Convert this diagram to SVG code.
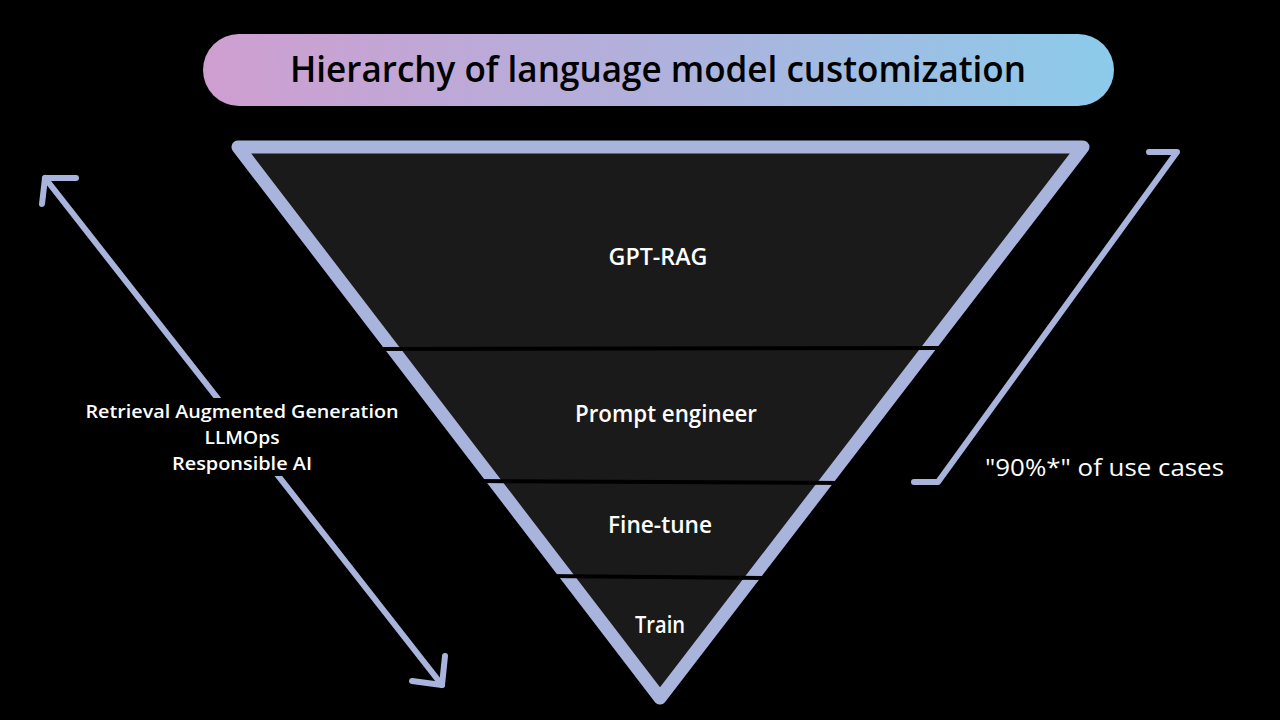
<svg xmlns="http://www.w3.org/2000/svg" width="1280" height="720" viewBox="0 0 1280 720">
  <defs>
    <linearGradient id="titleGrad" x1="0" y1="0" x2="1" y2="0">
      <stop offset="0" stop-color="#cf9ed0"/>
      <stop offset="0.5" stop-color="#b0b1dc"/>
      <stop offset="1" stop-color="#8ccbea"/>
    </linearGradient>
    <style>
      .lbl { font-family: "Open Sans", "Noto Sans", "Liberation Sans", sans-serif; font-weight: 600; fill: #ffffff; text-anchor: middle; }
      .side { font-family: "Open Sans", "Noto Sans", "Liberation Sans", sans-serif; font-weight: 600; fill: #ffffff; text-anchor: middle; font-size: 18.5px; }
      .conn { fill: none; stroke: #a9b4dd; stroke-width: 6; stroke-linecap: round; stroke-linejoin: round; }
      .divider { stroke: #000000; stroke-width: 4; }
    </style>
  </defs>
  <rect x="0" y="0" width="1280" height="720" fill="#000000"/>

  <g id="title">
    <rect x="203" y="34" width="911" height="72" rx="36" ry="36" fill="url(#titleGrad)"/>
    <text x="658" y="82" font-family="'Open Sans', 'Noto Sans', 'Liberation Sans', sans-serif" font-weight="600" font-size="36" fill="#000000" text-anchor="middle" textLength="736" lengthAdjust="spacingAndGlyphs">Hierarchy of language model customization</text>
  </g>

  <g id="pyramid">
    <polygon points="238,147 1083,147 660,698" fill="#1a1a1a" stroke="#a9b4dd" stroke-width="13" stroke-linejoin="round"/>
    <line class="divider" x1="370" y1="349" x2="950" y2="348"/>
    <line class="divider" x1="475" y1="481" x2="845" y2="483"/>
    <line class="divider" x1="545" y1="576" x2="775" y2="578"/>
  </g>

  <g id="node-gpt-rag">
    <text class="lbl" x="658" y="265" font-size="23" textLength="99" lengthAdjust="spacingAndGlyphs">GPT-RAG</text>
  </g>
  <g id="node-prompt-engineer">
    <text class="lbl" x="666" y="422" font-size="23" textLength="182" lengthAdjust="spacingAndGlyphs">Prompt engineer</text>
  </g>
  <g id="node-fine-tune">
    <text class="lbl" x="660" y="533" font-size="23" textLength="104" lengthAdjust="spacingAndGlyphs">Fine-tune</text>
  </g>
  <g id="node-train">
    <text class="lbl" x="660" y="633" font-size="23" textLength="50" lengthAdjust="spacingAndGlyphs">Train</text>
  </g>

  <g id="connectors">
    <line class="conn" x1="45" y1="178" x2="442" y2="685"/>
    <polyline class="conn" points="76,178 45,178 42,204"/>
    <polyline class="conn" points="412,681 442,685 445,656"/>
    <polyline class="conn" points="1149,152 1177,152 938,482 914,482"/>
  </g>

  <g id="side-label">
    <rect x="80" y="398" width="326" height="78" fill="#000000"/>
    <text class="side" x="242" y="418" textLength="313" lengthAdjust="spacingAndGlyphs">Retrieval Augmented Generation</text>
    <text class="side" x="242" y="444" textLength="75" lengthAdjust="spacingAndGlyphs">LLMOps</text>
    <text class="side" x="242" y="470" textLength="140" lengthAdjust="spacingAndGlyphs">Responsible AI</text>
  </g>

  <g id="bracket-label">
    <text x="985" y="476" font-family="'Open Sans', 'Noto Sans', 'Liberation Sans', sans-serif" font-weight="500" font-size="23" fill="#ffffff" textLength="239" lengthAdjust="spacingAndGlyphs">"90%*" of use cases</text>
  </g>
</svg>
